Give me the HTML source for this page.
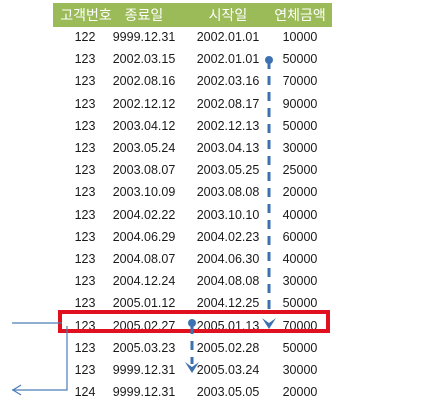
<!DOCTYPE html>
<html><head><meta charset="utf-8"><style>
body{margin:0;width:442px;height:408px;background:#fff;overflow:hidden;position:relative;font-family:"Liberation Sans","Noto Sans CJK KR",sans-serif;}
#hdr{position:absolute;left:53px;top:3px;width:279px;height:24px;background:#9bbb59;}
.h{position:absolute;top:3px;height:24px;line-height:24px;color:#fff;font-size:14px;text-align:center;}
.c{position:absolute;font-size:12.5px;color:#1a1a1a;text-align:center;height:20px;line-height:20px;}
svg{position:absolute;left:0;top:0}
</style></head><body>
<div id="hdr"></div>
<div class="h" style="left:53px;width:66px">고객번호</div>
<div class="h" style="left:112px;width:64px">종료일</div>
<div class="h" style="left:196px;width:64px">시작일</div>
<div class="h" style="left:268px;width:64px">연체금액</div>
<div id="rows"></div>
<svg width="442" height="408">
<rect x="60" y="312" width="268" height="19" fill="none" stroke="#e0101e" stroke-width="4"/>
<line x1="269" y1="60" x2="269" y2="316" stroke="#3d72b0" stroke-width="3" stroke-dasharray="9,7"/>
<circle cx="269" cy="60" r="4" fill="#3d72b0"/>
<path d="M262 318 L269 329 L276 318 L269 323 Z" fill="#3d72b0"/>
<line x1="192" y1="325" x2="192" y2="364" stroke="#3d72b0" stroke-width="3" stroke-dasharray="9,7"/>
<circle cx="192" cy="323" r="4" fill="#3d72b0"/>
<path d="M185 362 L192 373 L199 362 L192 367 Z" fill="#3d72b0"/>
<path d="M12 323 L62 323 M67 326 L67 390 L12 390" fill="none" stroke="#4a7db8" stroke-width="1.2"/>
<path d="M21 385 L13 390 L21 395" fill="none" stroke="#4a7db8" stroke-width="1.2"/>
</svg>
<script>
const ids=["122","123","123","123","123","123","123","123","123","123","123","123","123","123","123","123","124"];
const ends=["9999.12.31","2002.03.15","2002.08.16","2002.12.12","2003.04.12","2003.05.24","2003.08.07","2003.10.09","2004.02.22","2004.06.29","2004.08.07","2004.12.24","2005.01.12","2005.02.27","2005.03.23","9999.12.31","9999.12.31"];
const starts=["2002.01.01","2002.01.01","2002.03.16","2002.08.17","2002.12.13","2003.04.13","2003.05.25","2003.08.08","2003.10.10","2004.02.23","2004.06.30","2004.08.08","2004.12.25","2005.01.13","2005.02.28","2005.03.24","2003.05.05"];
const amounts=["10000","50000","70000","90000","50000","30000","25000","20000","40000","60000","40000","30000","50000","70000","50000","30000","20000"];
const R=document.getElementById('rows');
function cell(t,x,w,y,name){const d=document.createElement('div');d.className='c';d.style.left=x+'px';d.style.width=w+'px';d.style.top=y+'px';d.textContent=t;


R.appendChild(d);}
ids.forEach((v,i)=>{const y=27+i*22.2;
cell(v,55,60,y,'customer-id-cell');
cell(ends[i],112,64,y,'end-date-cell');
cell(starts[i],196,64,y,'start-date-cell');
cell(amounts[i],270,60,y,'amount-cell');});
</script>
</body></html>
